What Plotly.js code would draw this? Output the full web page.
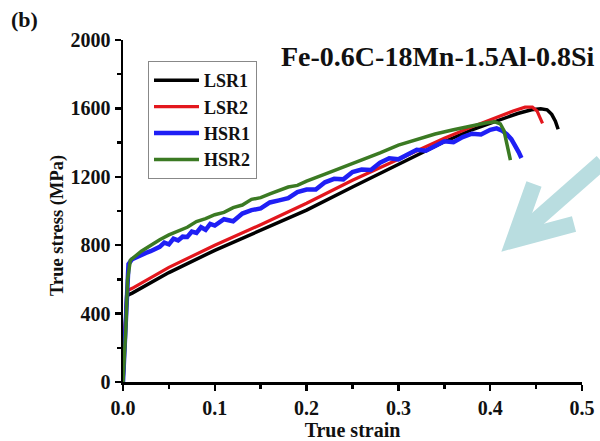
<!DOCTYPE html>
<html><head><meta charset="utf-8">
<script src="https://cdn.plot.ly/plotly-3.0.1.min.js"></script>
<style>html,body{margin:0;padding:0;background:#fff}#chart{width:600px;height:441px}</style>
</head><body><div id="chart"></div>
<script>
// LSR1 (black)
const lsr1Strain = [0, 0.002, 0.004, 0.01, 0.05, 0.1, 0.15, 0.2, 0.25, 0.3, 0.35, 0.38, 0.41, 0.43, 0.445, 0.455, 0.462, 0.467, 0.471, 0.474];
const lsr1Stress = [0, 250, 505, 520, 640, 770, 885, 1005, 1140, 1270, 1405, 1475, 1535, 1570, 1592, 1598, 1592, 1565, 1525, 1478];
// LSR2 (red)
const lsr2Strain = [0, 0.002, 0.005, 0.01, 0.05, 0.1, 0.15, 0.2, 0.25, 0.3, 0.35, 0.38, 0.41, 0.425, 0.438, 0.446, 0.451, 0.454, 0.457];
const lsr2Stress = [0, 300, 535, 548, 670, 800, 920, 1045, 1180, 1305, 1425, 1492, 1555, 1585, 1607, 1607, 1585, 1550, 1513];
// HSR1 (blue)
const hsr1Strain = [0, 0.003, 0.006, 0.01, 0.015, 0.02, 0.025, 0.03, 0.035, 0.04, 0.045, 0.05, 0.055, 0.06, 0.065, 0.07, 0.075, 0.08, 0.085, 0.09, 0.095, 0.1, 0.11, 0.12, 0.13, 0.14, 0.15, 0.16, 0.17, 0.18, 0.19, 0.2, 0.21, 0.22, 0.23, 0.24, 0.25, 0.26, 0.27, 0.28, 0.29, 0.3, 0.31, 0.32, 0.33, 0.34, 0.35, 0.36, 0.37, 0.38, 0.39, 0.4, 0.407, 0.413, 0.418, 0.423, 0.428, 0.431, 0.434];
const hsr1Stress = [0, 350, 690, 718, 732, 740, 755, 765, 778, 790, 815, 805, 838, 828, 850, 848, 880, 872, 905, 890, 925, 915, 952, 940, 985, 1005, 1015, 1050, 1062, 1075, 1110, 1125, 1125, 1168, 1188, 1185, 1228, 1242, 1240, 1282, 1308, 1302, 1330, 1358, 1352, 1380, 1408, 1402, 1432, 1452, 1448, 1475, 1483, 1470, 1450, 1420, 1380, 1345, 1310];
// HSR2 (green)
const hsr2Strain = [0, 0.003, 0.005, 0.008, 0.02, 0.03, 0.04, 0.05, 0.06, 0.07, 0.08, 0.09, 0.1, 0.11, 0.12, 0.13, 0.14, 0.15, 0.16, 0.17, 0.18, 0.19, 0.2, 0.22, 0.24, 0.26, 0.28, 0.3, 0.32, 0.34, 0.36, 0.38, 0.395, 0.405, 0.411, 0.415, 0.418, 0.42, 0.422];
const hsr2Stress = [0, 300, 600, 712, 765, 800, 832, 860, 882, 905, 938, 955, 978, 992, 1020, 1035, 1068, 1078, 1100, 1122, 1140, 1150, 1175, 1215, 1255, 1300, 1340, 1385, 1420, 1450, 1475, 1500, 1515, 1522, 1510, 1470, 1400, 1350, 1298];

const seriesNames = ['LSR1', 'LSR2', 'HSR1', 'HSR2'];
const seriesColors = ['#000000', '#e3171d', '#1f1ff5', '#3b7a23'];

const serif = 'Liberation Serif, Times New Roman, serif';
const mk = (x, y, i, w) => ({x, y, type: 'scatter', mode: 'lines', name: seriesNames[i],
  line: {color: seriesColors[i], width: w}});

const data = [
  mk(lsr1Strain, lsr1Stress, 0, 3.5),
  mk(lsr2Strain, lsr2Stress, 1, 3.2),
  mk(hsr1Strain, hsr1Stress, 2, 4.5),
  mk(hsr2Strain, hsr2Stress, 3, 3.5)
];

// helpers: pixel -> paper
const L = 123, R = 582, T = 40, B = 382;
const px = v => (v - L) / (R - L);
const py = v => (B - v) / (B - T);
const arrowColor = '#b9dde0';

const layout = {
  width: 600, height: 441,
  margin: {l: L, r: 600 - R, t: T, b: 441 - B},
  paper_bgcolor: '#fff', plot_bgcolor: '#fff',
  showlegend: true,
  legend: {x: px(148), y: py(61), xanchor: 'left', yanchor: 'top',
    bgcolor: '#fff', bordercolor: '#888', borderwidth: 1,
    font: {family: serif, size: 18, color: '#111', weight: 'bold'},
    itemwidth: 45, tracegroupgap: 0},
  xaxis: {range: [0, 0.5], dtick: 0.1, tick0: 0, tickformat: '.1f',
    showline: true, linecolor: '#000', linewidth: 2.5, ticks: 'outside', ticklen: 6, tickwidth: 2.5, tickcolor: '#000',
    minor: {dtick: 0.05, ticks: 'outside', ticklen: 4, tickwidth: 2.5, tickcolor: '#000', showgrid: false},
    showgrid: false, zeroline: false,
    tickfont: {family: serif, size: 20, color: '#111', weight: 'bold'},
    title: {text: 'True strain', font: {family: serif, size: 20, color: '#111', weight: 'bold'}, standoff: 2}},
  yaxis: {range: [0, 2000], dtick: 400, tick0: 0,
    showline: true, linecolor: '#000', linewidth: 2.5, ticks: 'outside', ticklen: 6, tickwidth: 2.5, tickcolor: '#000',
    minor: {dtick: 200, ticks: 'outside', ticklen: 4, tickwidth: 2.5, tickcolor: '#000', showgrid: false},
    showgrid: false, zeroline: false,
    tickfont: {family: serif, size: 20, color: '#111', weight: 'bold'}},
  annotations: [
    {text: 'True stress (MPa)', xref: 'paper', yref: 'paper', x: px(57), y: py(226),
     xanchor: 'center', yanchor: 'middle', showarrow: false, textangle: -90,
     font: {family: serif, size: 18.5, color: '#111', weight: 'bold'}},
    {text: 'Fe-0.6C-18Mn-1.5Al-0.8Si', xref: 'paper', yref: 'paper', x: px(438), y: py(57),
     xanchor: 'center', yanchor: 'middle', showarrow: false,
     font: {family: serif, size: 28, color: '#111', weight: 'bold'}},
    {text: '(b)', xref: 'paper', yref: 'paper', x: px(9), y: py(20),
     xanchor: 'left', yanchor: 'middle', showarrow: false,
     font: {family: serif, size: 22, color: '#111', weight: 'bold'}}
  ],
  shapes: [
    {type: 'line', xref: 'paper', yref: 'paper', x0: px(602), y0: py(162), x1: px(518), y1: py(236),
     line: {color: arrowColor, width: 16}},
    {type: 'path', xref: 'paper', yref: 'paper',
     path: `M ${px(534)} ${py(184)} L ${px(514)} ${py(240)} L ${px(574)} ${py(224)}`,
     line: {color: arrowColor, width: 16}}
  ]
};

Plotly.newPlot('chart', data, layout, {displayModeBar: false, staticPlot: true});
</script>
</body></html>
